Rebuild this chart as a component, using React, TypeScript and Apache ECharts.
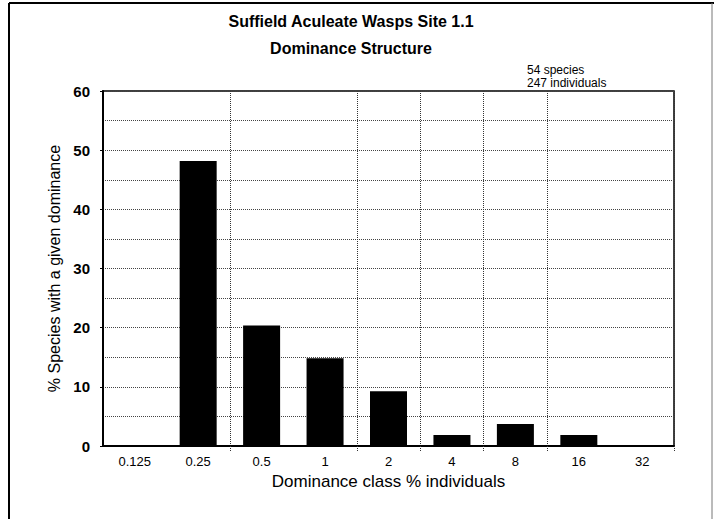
import React, { useEffect, useRef } from "react";
import * as echarts from "echarts";

const categories = ["0.125", "0.25", "0.5", "1", "2", "4", "8", "16", "32"];
const speciesPercent = [0, 48.15, 20.37, 14.81, 9.26, 1.85, 3.7, 1.85, 0];
const yTicks = [0, 10, 20, 30, 40, 50, 60];
const titleLines = ["Suffield Aculeate Wasps Site 1.1", "Dominance Structure"];
const noteLines = ["54 species", "247 individuals"];
const dividerAt = [2, 4, 5, 6, 7];

const FONT = "'Liberation Sans', Arial, Helvetica, sans-serif";

export default function App() {
  const ref = useRef<HTMLDivElement>(null);
  useEffect(() => {
    if (!ref.current) return;
    const chart = echarts.init(ref.current, undefined, { renderer: "svg" });
    const showDivider = (i: number) => dividerAt.indexOf(i) >= 0;
    chart.setOption({
      animation: false,
      backgroundColor: "#fff",
      textStyle: { fontFamily: FONT },
      title: {
        text: titleLines.join("\n"),
        left: 346,
        top: 3,
        textAlign: "center",
        textStyle: { fontFamily: FONT, fontSize: 16, fontWeight: "bold", color: "#000", lineHeight: 27 },
      },
      grid: {
        left: 103,
        right: 40,
        top: 91,
        bottom: 73,
        show: true,
        borderColor: "#000",
        borderWidth: 1.5,
      },
      xAxis: {
        type: "category",
        data: categories,
        name: "Dominance class % individuals",
        nameLocation: "middle",
        nameGap: 26,
        nameTextStyle: { fontFamily: FONT, fontSize: 17, color: "#000" },
        axisLine: { lineStyle: { color: "#000", width: 2 } },
        axisTick: { show: true, interval: (i: number) => showDivider(i), length: 6, lineStyle: { color: "#333", type: "dotted" } },
        axisLabel: { color: "#000", fontSize: 13, margin: 9, fontFamily: FONT, interval: 0 },
        splitLine: { show: true, interval: (i: number) => showDivider(i), lineStyle: { color: "#333", type: "dotted", width: 1 } },
      },
      yAxis: {
        type: "value",
        min: 0,
        max: 60,
        interval: 10,
        name: "% Species with a given dominance",
        nameLocation: "middle",
        nameGap: 34,
        nameRotate: 90,
        nameTextStyle: { fontFamily: FONT, fontSize: 16, color: "#000" },
        axisLine: { show: true, lineStyle: { color: "#000", width: 2 } },
        axisTick: { show: true, length: 3, lineStyle: { color: "#000" } },
        axisLabel: {
          color: "#000",
          fontSize: 15,
          fontWeight: "bold",
          margin: 13,
          fontFamily: FONT,
          formatter: (v: number) => (yTicks.indexOf(v) >= 0 ? String(v) : ""),
        },
        splitLine: { show: true, lineStyle: { color: "#444", type: "dotted", width: 1 } },
        minorTick: { show: false, splitNumber: 2 },
        minorSplitLine: { show: true, lineStyle: { color: "#444", type: "dotted", width: 1 } },
      },
      series: [
        {
          type: "bar",
          data: speciesPercent,
          barWidth: 37,
          itemStyle: { color: "#000" },
          z: 3,
        },
      ],
      graphic: [
        {
          type: "text",
          left: 527,
          top: 63,
          style: { text: noteLines.join("\n"), font: `12px ${FONT}`, fill: "#000", lineHeight: 13 },
        },
        { type: "line", shape: { x1: 9, y1: 3, x2: 714, y2: 3 }, style: { stroke: "#000", lineWidth: 2 } },
        { type: "line", shape: { x1: 9, y1: 3, x2: 9, y2: 519 }, style: { stroke: "#000", lineWidth: 2 } },
        { type: "line", shape: { x1: 712, y1: 3, x2: 712, y2: 519 }, style: { stroke: "#777", lineWidth: 1 } },
      ],
    });
    return () => chart.dispose();
  }, []);
  return <div ref={ref} style={{ position: "fixed", left: 0, top: 0, width: 714, height: 519 }} />;
}
